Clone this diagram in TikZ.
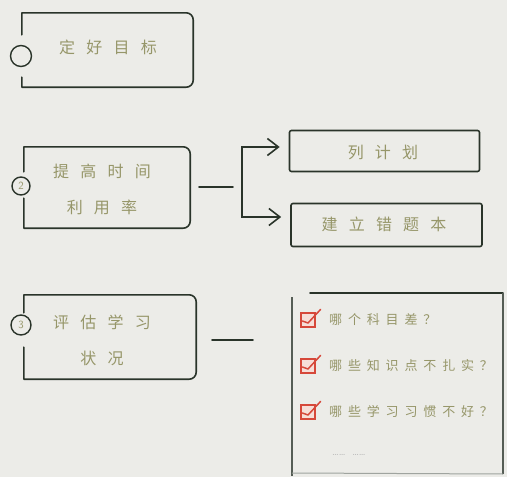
\documentclass[tikz,border=0pt]{standalone}
\usepackage{fontspec}
\usetikzlibrary{arrows.meta}
\newfontfamily\cjkbig[LetterSpace=70]{Noto Sans CJK SC}
\newfontfamily\cjksmall[LetterSpace=45]{Noto Sans CJK SC}
\definecolor{bgc}{RGB}{236,236,232}
\definecolor{ink}{RGB}{42,52,42}
\definecolor{txt}{RGB}{150,150,105}
\definecolor{chk}{RGB}{214,72,58}
\definecolor{chkfill}{RGB}{246,222,216}
\tikzset{
  boxline/.style={draw=ink,line width=1.6pt,line cap=round,line join=round},
  holder/.style={draw=none,rectangle,inner sep=0pt},
  maintxt/.style={text=txt,font=\cjkbig\fontsize{16}{36}\selectfont,align=center,inner sep=0pt},
  listtxt/.style={text=txt,font=\cjksmall\fontsize{13}{15}\selectfont,anchor=west,inner sep=0pt},
  numcirc/.style={circle,draw=ink,line width=1.4pt,inner sep=0pt,text=txt,font=\sffamily\fontsize{11}{11}\selectfont},
  arr/.style={draw=ink,line width=1.6pt,-{Straight Barb[length=11pt,width=17pt,line width=1.6pt]},shorten >=9pt},
  chkbox/.style={rectangle,draw=chk,fill=chkfill,line width=1.2pt,minimum size=14pt,inner sep=0pt}
}
\begin{document}
\begin{tikzpicture}[x=1pt,y=-1pt]
\fill[bgc] (0,0) rectangle (507,477);
\useasboundingbox (0,0) rectangle (507,477);

% ---- row 1
\node[holder,minimum width=171pt,minimum height=74pt] (b1) at (107.5,50) {};
\draw[boxline] ([yshift=-22pt]b1.north west) -- (b1.north west)
  {[rounded corners=7pt] -- (b1.north east) -- (b1.south east)} -- (b1.south west) -- ++(0,-10);
\node[numcirc,minimum size=21pt] (c1) at (21,56) {};
\node[maintxt] (t1) at (108,47) {定好目标};

% ---- row 2
\node[holder,minimum width=166pt,minimum height=81pt] (b2) at (107,187.5) {};
\draw[boxline] ([yshift=-25pt]b2.north west) -- (b2.north west)
  {[rounded corners=7pt] -- (b2.north east) -- (b2.south east)} -- (b2.south west) -- ++(0,-30);
\node[numcirc,minimum size=18pt] (c2) at (21,186) {2};
\node[maintxt] (t2) at (102,189) {提高时间\\利用率};

\coordinate (d1) at (199,187);
\coordinate (d2) at (233,187);
\draw[boxline] (d1) -- (d2);

\node[holder,draw=ink,line width=1.6pt,rounded corners=2pt,minimum width=190pt,minimum height=41pt] (r1) at (384.5,151) {};
\node[maintxt] (t3) at (383,152) {列计划};
\node[holder,draw=ink,line width=1.6pt,rounded corners=2pt,minimum width=191pt,minimum height=43pt] (r2) at (386.5,225) {};
\node[maintxt] (t4) at (384,224) {建立错题本};

\coordinate (brk) at (242,182);
\draw[arr] (brk) |- ([yshift=4pt]r1.west);
\draw[arr] (brk) |- ([yshift=8pt]r2.west);

% ---- row 3
\node[holder,minimum width=172pt,minimum height=84pt] (b3) at (110,337) {};
\draw[boxline] ([yshift=-18pt]b3.north west) -- (b3.north west)
  {[rounded corners=7pt] -- (b3.north east) -- (b3.south east)} -- (b3.south west) -- ++(0,-32);
\node[numcirc,minimum size=20pt] (c3) at (21,325) {3};
\node[maintxt] (t5) at (102,340) {评估学习\\状况};

\coordinate (e1) at (212,340);
\coordinate (e2) at (253,340);
\draw[boxline] (e1) -- (e2);

% checklist panel
\draw[draw=ink!80,line width=1.1pt] (292,297) -- (292,476);
\draw[boxline] (310,293) -- (503,293);
\draw[draw=ink!80,line width=1.2pt] (503,293) -- (503,474);
\draw[draw=ink!45,line width=1pt] (503,474) -- (292,473);

\foreach \i/\yy/\tx in {1/320/{哪个科目差？},2/366/{哪些知识点不扎实？},3/412/{哪些学习习惯不好？}}{
  \node[chkbox] (k\i) at (308,\yy) {};
  \draw[chk,line width=1.5pt,line cap=round,line join=round]
     ([xshift=2pt,yshift=-1pt]k\i.west) -- ([yshift=-3pt]k\i.center) -- ([xshift=5pt,yshift=3pt]k\i.north east);
  \node[listtxt] (l\i) at (329,\yy) {\tx};
}
\node[text=black!30,font=\fontsize{10}{10}\selectfont,anchor=west,inner sep=0pt] (dots) at (332,455) {\textellipsis\textellipsis\ \ \textellipsis\textellipsis};
\end{tikzpicture}
\end{document}
